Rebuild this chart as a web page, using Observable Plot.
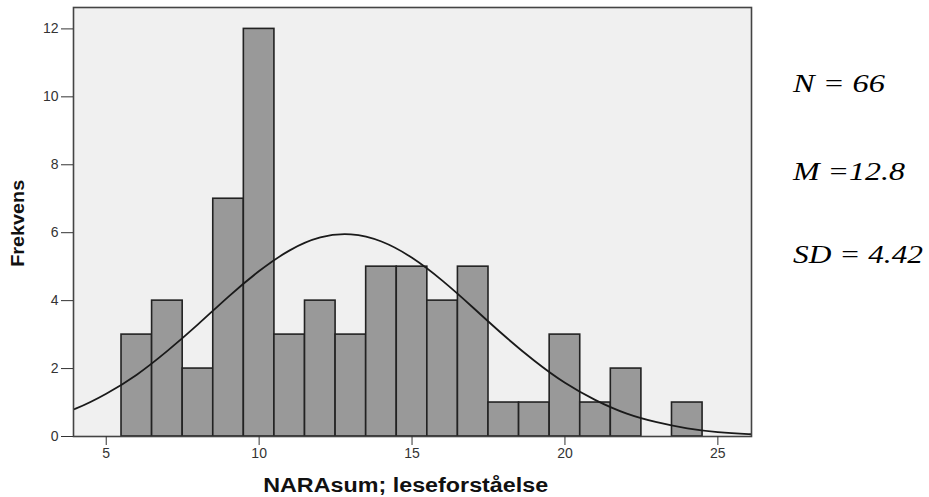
<!DOCTYPE html>
<html>
<head>
<meta charset="utf-8">
<script src="https://cdn.jsdelivr.net/npm/d3@7"></script>
<script src="https://cdn.jsdelivr.net/npm/@observablehq/plot@0.6"></script>
<style>
  html, body { margin: 0; padding: 0; background: #fff; }
  #chart svg g[aria-label="x-axis tick label"],
  #chart svg g[aria-label="y-axis tick label"] { font-size: 14px; fill: #333; }
</style>
</head>
<body>
<div id="chart"></div>
<script>
// Histogram bins (centre of each unit-wide bin) and frequencies
const binCenters = [6, 7, 8, 9, 10, 11, 12, 13, 14, 15, 16, 17, 18, 19, 20, 21, 22, 23, 24];
const counts     = [3, 4, 2, 7, 12, 3, 4, 3, 5, 5, 4, 5, 1, 1, 3, 1, 2, 0, 1];

// Normal curve overlay
const curveX = [3, 4, 5, 6, 7, 8, 9, 10, 11, 12, 13, 14, 15, 16, 17, 18, 19, 20, 21, 22, 23, 24, 25, 26, 27];
const curveY = [0.51, 0.82, 1.26, 1.82, 2.52, 3.30, 4.12, 4.87, 5.48, 5.86, 5.95, 5.74, 5.26, 4.58, 3.79, 2.98, 2.23, 1.58, 1.07, 0.68, 0.42, 0.24, 0.13, 0.07, 0.03];

// Tick labels
const xTicks = [5, 10, 15, 20, 25];
const yTicks = [0, 2, 4, 6, 8, 10, 12];

// Text
const xLabel = "NARAsum; leseforståelse";
const yLabel = "Frekvens";
const statsLabels = ["N = 66", "M =12.8", "SD = 4.42"];

const bars = binCenters
  .map((c, i) => ({x1: c - 0.5, x2: c + 0.5, count: counts[i]}))
  .filter(d => d.count > 0);
const curve = curveX.map((x, i) => ({x, y: curveY[i]}));

const svg = Plot.plot({
  width: 929,
  height: 497,
  marginLeft: 73,
  marginRight: 178,
  marginTop: 7,
  marginBottom: 61,
  style: {fontFamily: "'Liberation Sans', Arial, sans-serif", fontSize: "14px", color: "#222", background: "#fff"},
  x: {domain: [3.93, 26.1]},
  y: {domain: [0, 12.63]},
  marks: [
    Plot.frame({fill: "#f0f0f0", stroke: "none"}),
    Plot.rectY(bars, {x1: "x1", x2: "x2", y: "count", inset: 0, fill: "#999999", stroke: "#222", strokeWidth: 1.6}),
    Plot.line(curve, {x: "x", y: "y", curve: "natural", clip: true, stroke: "#1a1a1a", strokeWidth: 1.8}),
    Plot.frame({stroke: "#444", strokeWidth: 1.6}),
    Plot.axisX({ticks: xTicks, tickSize: 9, tickPadding: 3, label: null, fontSize: 14, tickFormat: d => String(d), stroke: "#333", fill: "#333"}),
    Plot.axisY({ticks: yTicks, tickSize: 12, tickPadding: 3, label: null, fontSize: 14, tickFormat: d => String(d), stroke: "#333", fill: "#333"})
  ]
});

const s = d3.select(svg);
s.selectAll('g[aria-label="x-axis tick label"], g[aria-label="y-axis tick label"]')
  .attr("font-size", 14);
s.append("text")
  .attr("x", 405.7).attr("y", 492)
  .attr("text-anchor", "middle")
  .attr("font-family", "'Liberation Sans', Arial, sans-serif")
  .attr("font-weight", "bold").attr("font-size", 20).attr("fill", "#111")
  .attr("textLength", 285).attr("lengthAdjust", "spacingAndGlyphs")
  .text(xLabel);
s.append("text")
  .attr("transform", "translate(23.5,223.3) rotate(-90)")
  .attr("text-anchor", "middle")
  .attr("font-family", "'Liberation Sans', Arial, sans-serif")
  .attr("font-weight", "bold").attr("font-size", 18).attr("fill", "#111")
  .attr("textLength", 87).attr("lengthAdjust", "spacingAndGlyphs")
  .text(yLabel);

const statY = [92, 180, 263];
const statW = [92, 112, 130];
statsLabels.forEach((t, i) => {
  s.append("text")
    .attr("x", 793).attr("y", statY[i])
    .attr("text-anchor", "start")
    .attr("font-family", "'Liberation Serif', 'Times New Roman', serif")
    .attr("font-style", "italic").attr("font-size", 26).attr("fill", "#000")
    .attr("textLength", statW[i]).attr("lengthAdjust", "spacingAndGlyphs")
    .text(t);
});

document.getElementById("chart").appendChild(svg);
</script>
</body>
</html>
